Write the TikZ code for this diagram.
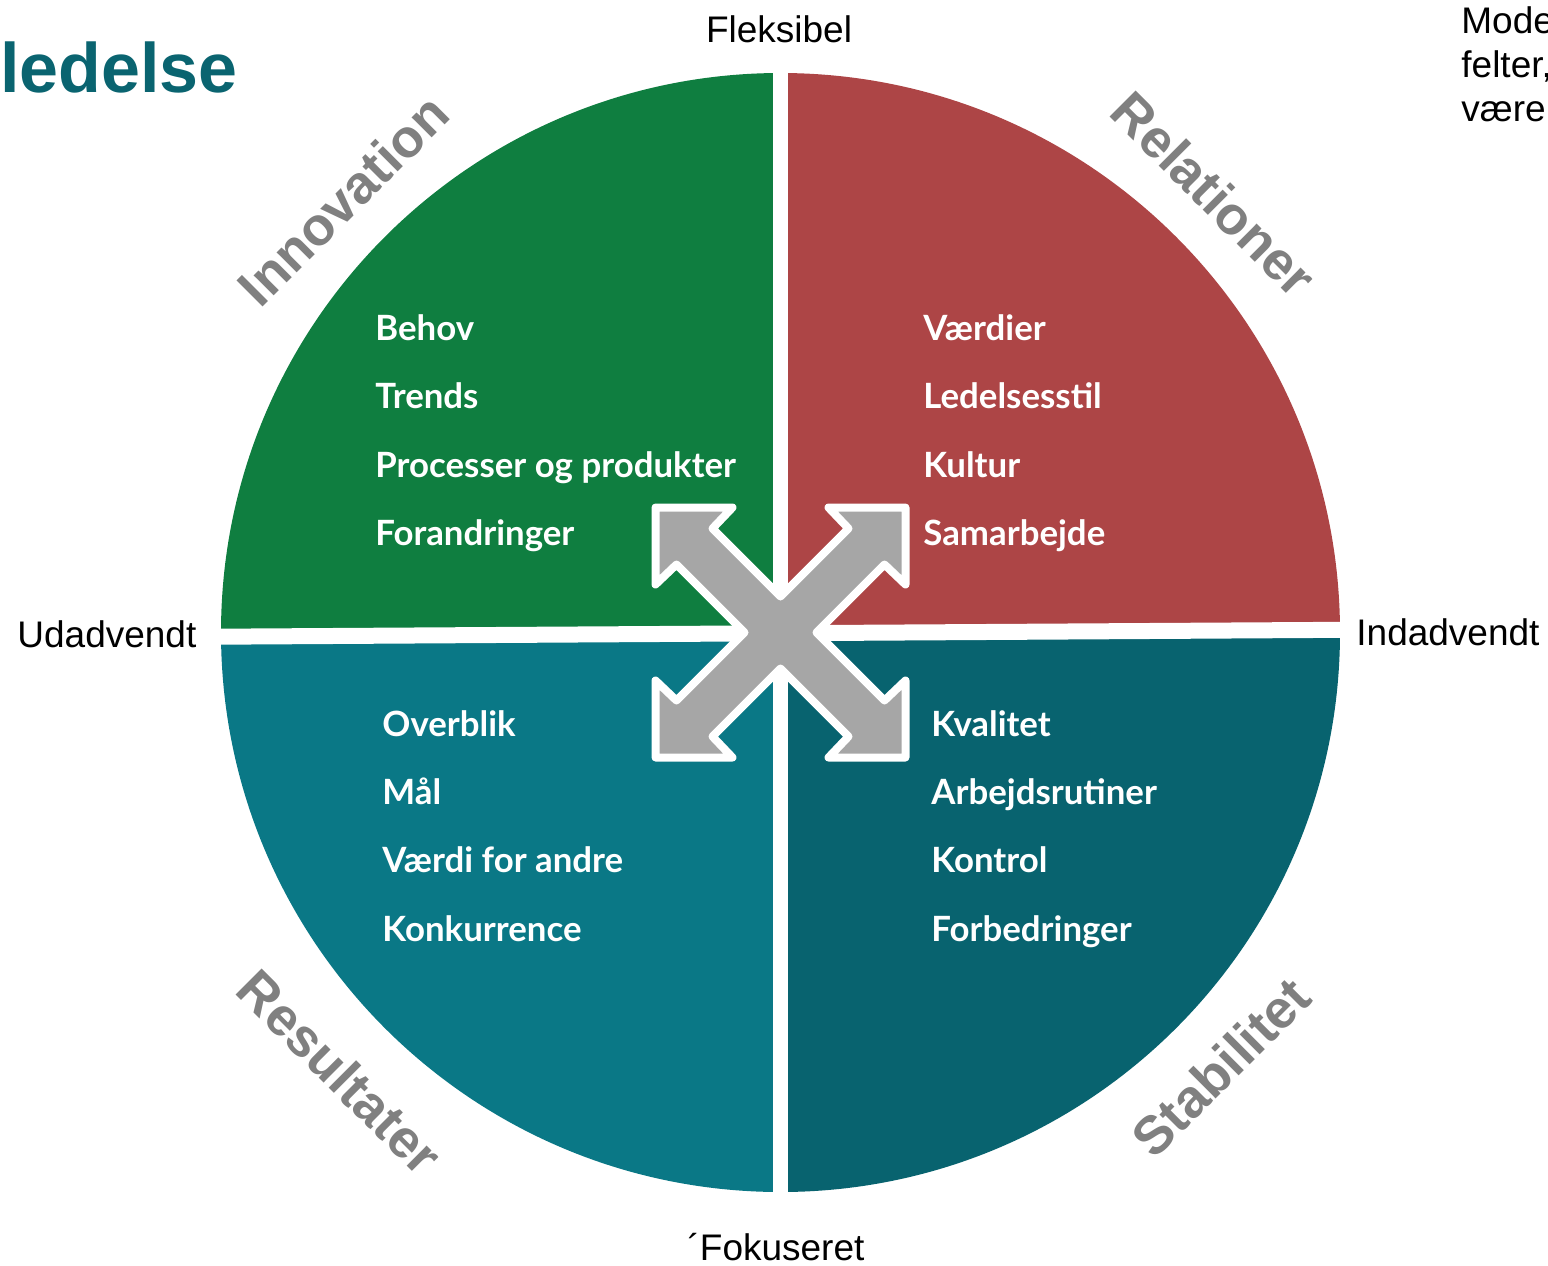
\documentclass[tikz,border=0pt]{standalone}
\usepackage{fontspec}
\setmainfont{Liberation Sans}
\newfontfamily\listfont{Lato}
\definecolor{qgreen}{HTML}{0F7E40}
\definecolor{qred}{HTML}{AD4546}
\definecolor{qteal}{HTML}{0A7886}
\definecolor{qdark}{HTML}{08636F}
\definecolor{arrowgray}{HTML}{A6A6A6}
\definecolor{labelgray}{HTML}{808080}
\definecolor{titleteal}{HTML}{0A6470}
\tikzset{
  axislabel/.style={font=\fontsize{18.5pt}{22pt}\selectfont, text=black, inner sep=0},
  catlabel/.style={font=\fontsize{26.8pt}{30pt}\selectfont\bfseries, text=labelgray, inner sep=0},
  item/.style={font=\listfont\bfseries\fontsize{17.4pt}{21pt}\selectfont, text=white, inner sep=0, anchor=base west},
  gap/.style={white, line width=8pt},
  bigarrow/.style={fill=arrowgray, draw=white, line width=4pt, line join=round}
}
\begin{document}
\begin{tikzpicture}[x=0.5pt,y=-0.5pt]
\useasboundingbox (0,0) rectangle (1548,1265);
% quadrants
\begin{scope}
  \clip (780.5,632.5) circle (559.5);
  \fill[qgreen] (200,40) rectangle (780.5,636);
  \fill[qred] (780.5,40) rectangle (1360,636);
  \fill[qteal] (200,633) rectangle (780.5,1220);
  \fill[qdark] (780.5,633) rectangle (1360,1220);
\end{scope}
\draw[gap, line width=7.5pt] (780.5,50) -- (780.5,1215);
\draw[gap] (200,636.8) -- (1360,629.7);
% four-way arrow
\draw[bigarrow, shift={(780.5,632.5)}]
  (-36,0) -- (-104,-68) -- (-125,-48) -- (-125,-125) -- (-48,-125) -- (-68,-104) --
  (0,-36) -- (68,-104) -- (48,-125) -- (125,-125) -- (125,-48) -- (104,-68) --
  (36,0) -- (104,68) -- (125,48) -- (125,125) -- (48,125) -- (68,104) --
  (0,36) -- (-68,104) -- (-48,125) -- (-125,125) -- (-125,48) -- (-104,68) -- cycle;
% title and side texts
\node[font=\fontsize{35pt}{40pt}\selectfont\bfseries, text=titleteal, anchor=base west, inner sep=0] (title) at (0,92) {ledelse};
\node[axislabel, anchor=base] (flex) at (779,42) {Fleksibel};
\node[axislabel, anchor=base west] (ud) at (17,647) {Udadvendt};
\node[axislabel, anchor=base west] (ind) at (1356,645) {Indadvendt};
\node[axislabel, anchor=base] (fok) at (776,1260) {´Fokuseret};
\node[axislabel, anchor=base west] (m1) at (1461,33) {Mode};
\node[axislabel, anchor=base west] (m2) at (1461,77) {felter,};
\node[axislabel, anchor=base west] (m3) at (1461,121) {være};
% category labels
\node[catlabel, rotate=45] (innov) at (343,200) {Innovation};
\node[catlabel, rotate=-45] (rel) at (1214,194) {Relationer};
\node[catlabel, rotate=-45] (res) at (340,1072) {Resultater};
\node[catlabel, rotate=45] (stab) at (1221,1067) {Stabilitet};
% lists
\node[item] (a1) at (375,340) {Behov};
\node[item] (a2) at (375,408) {Trends};
\node[item] (a3) at (375,477) {Processer og produkter};
\node[item] (a4) at (375,545) {Forandringer};
\node[item] (b1) at (923,340) {Værdier};
\node[item] (b2) at (923,408) {Ledelsesstil};
\node[item] (b3) at (923,477) {Kultur};
\node[item] (b4) at (923,545) {Samarbejde};
\node[item] (c1) at (382,736) {Overblik};
\node[item] (c2) at (382,804) {Mål};
\node[item] (c3) at (382,872) {Værdi for andre};
\node[item] (c4) at (382,941) {Konkurrence};
\node[item] (d1) at (931,736) {Kvalitet};
\node[item] (d2) at (931,804) {Arbejdsrutiner};
\node[item] (d3) at (931,872) {Kontrol};
\node[item] (d4) at (931,941) {Forbedringer};
\end{tikzpicture}
\end{document}
